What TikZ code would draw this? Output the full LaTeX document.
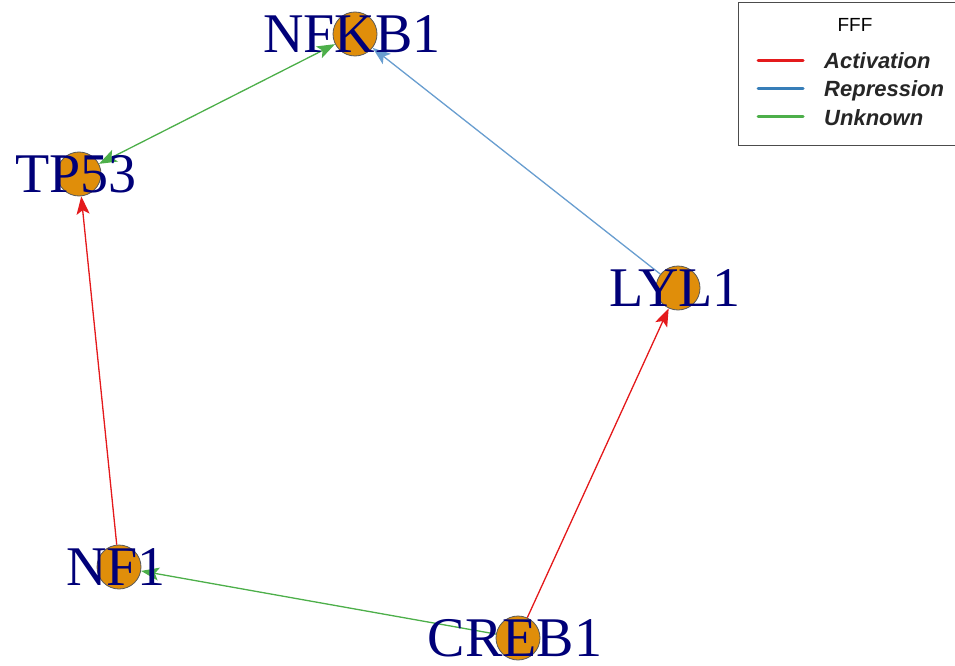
\documentclass[tikz,border=0pt]{standalone}
\usepackage{fontspec}
\setmainfont{Liberation Serif}
\newfontfamily\legendfont{Liberation Sans}
\usetikzlibrary{arrows.meta}
\usetikzlibrary{positioning}
\definecolor{geneorange}{RGB}{224,142,10}
\definecolor{genenavy}{RGB}{0,0,120}
\definecolor{activationred}{RGB}{228,26,28}
\definecolor{repressionblue}{RGB}{55,126,184}
\definecolor{repressionedge}{RGB}{105,158,208}
\definecolor{unknowngreen}{RGB}{77,175,74}
\tikzset{>={Stealth[length=18pt,width=13pt,inset=4pt]}}

\begin{document}
\begin{tikzpicture}[x=1pt, y=-1pt,
        gene/.style={draw=black!65, fill=geneorange, circle, minimum size=44pt, inner sep=0pt, line width=0.8pt},
        genelabel/.style={text=genenavy, inner sep=0pt, xshift=-3pt, font=\fontsize{56}{60}\selectfont},
        activation/.style={->, draw=activationred, fill=activationred, line width=1.3pt},
        repression/.style={->, draw=repressionedge, fill=repressionblue, line width=1.3pt},
        unknown/.style={->, draw=unknowngreen, fill=unknowngreen, line width=1.3pt},
        legendtext/.style={inner sep=0pt, text height=18pt, text depth=2pt, text=black!85, font=\legendfont\bfseries\itshape\fontsize{22}{24}\selectfont},
        legendline/.style={line width=3pt, line cap=round}]
        \useasboundingbox (0,0) rectangle (955,666);

        \node [gene] (NFKB1) at (355,34) {};
        \node [gene] (TP53) at (79,174) {};
        \node [gene] (LYL1) at (678,288) {};
        \node [gene] (NF1) at (119,567) {};
        \node [gene] (CREB1) at (518,638) {};

        \draw [unknown, <->] (TP53)--(NFKB1);
        \draw [repression] (LYL1)--(NFKB1);
        \draw [activation] (NF1)--(TP53);
        \draw [activation] (CREB1)--(LYL1);
        \draw [unknown] (CREB1)--(NF1);

        \node [genelabel] (NFKB1Label) at (NFKB1) {NFKB1};
        \node [genelabel] (TP53Label) at (TP53) {TP53};
        \node [genelabel] (LYL1Label) at (LYL1) {LYL1};
        \node [genelabel] (NF1Label) at (NF1) {NF1};
        \node [genelabel] (CREB1Label) at (CREB1) {CREB1};

        \draw [black!70, line width=1pt] (738,3) rectangle (960,145);
        \node [font=\legendfont\fontsize{19}{22}\selectfont] (LegendTitle) at (855,25) {FFF};
        \node [legendtext, anchor=west] (ActivationText) at (824,61) {Activation};
        \node [legendtext, below=28pt of ActivationText.west, anchor=west] (RepressionText) {Repression};
        \node [legendtext, below=28pt of RepressionText.west, anchor=west] (UnknownText) {Unknown};

        \coordinate [left=66pt of ActivationText.west] (ActivationLineStart);
        \coordinate [left=21pt of ActivationText.west] (ActivationLineEnd);
        \coordinate [left=66pt of RepressionText.west] (RepressionLineStart);
        \coordinate [left=21pt of RepressionText.west] (RepressionLineEnd);
        \coordinate [left=66pt of UnknownText.west] (UnknownLineStart);
        \coordinate [left=21pt of UnknownText.west] (UnknownLineEnd);
        \draw [legendline, activationred] (ActivationLineStart)--(ActivationLineEnd);
        \draw [legendline, repressionblue] (RepressionLineStart)--(RepressionLineEnd);
        \draw [legendline, unknowngreen] (UnknownLineStart)--(UnknownLineEnd);
    \end{tikzpicture}
\end{document}
